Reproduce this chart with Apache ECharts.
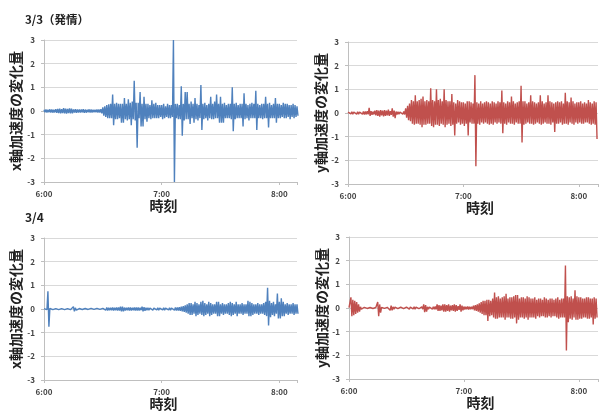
<!DOCTYPE html>
<html>
<head>
<meta charset="utf-8">
<script src="https://cdn.jsdelivr.net/npm/echarts@6/dist/echarts.min.js"></script>
<style>
html,body{margin:0;padding:0;background:#fff;}
#chart{width:601px;height:412px;}
</style>
</head>
<body>
<div id="chart"></div>
<script>
// Each minute from 6:00: highest reading (hi) and lowest reading (lo) in that minute
const sampleStepMinutes = 1;
const timeLabels = ['6:00', '7:00', '8:00'];
const panelTitles = ['3/3（発情）', '3/4'];
const yNames = ['x軸加速度の変化量', 'y軸加速度の変化量'];
const xName = '時刻';

// 3/3 x-axis acceleration change
const mar3XHi = [
 0.05,0.06,0.05,0.07,0.06,0.05,0.08,0.09,0.1,0.08,
 0.12,0.1,0.09,0.11,0.1,0.07,0.08,0.07,0.06,0.07,
 0.08,0.06,0.05,0.07,0.06,0.05,0.05,0.06,0.06,0.08,
 0.15,0.2,0.25,0.28,0.3,0.7,0.3,0.35,0.3,0.3,
 0.3,0.55,0.3,0.5,0.35,0.4,1.28,0.35,0.35,0.8,
 0.3,0.6,0.3,0.3,0.25,0.45,0.3,0.35,0.25,0.25,
 0.25,0.3,0.2,0.3,0.25,0.25,3,0.3,0.3,0.25,
 1.05,0.3,0.8,0.8,0.3,0.4,0.3,0.55,0.3,0.25,
 1.1,0.3,0.35,0.25,0.3,0.6,0.3,0.4,0.7,0.3,
 0.6,0.3,0.35,0.25,0.3,0.3,1.0,0.3,0.35,0.25,
 0.3,0.3,0.75,0.3,0.25,0.3,0.35,0.3,0.85,0.3,
 0.25,0.3,0.3,0.6,0.3,0.35,0.25,0.3,0.55,0.3,
 0.3,0.25,0.35,0.3,0.3,0.25,0.25,0.3,0.25,0.2
];
const mar3XLo = [
 -0.05,-0.06,-0.05,-0.06,-0.07,-0.06,-0.08,-0.09,-0.1,-0.09,
 -0.1,-0.11,-0.09,-0.1,-0.1,-0.07,-0.08,-0.07,-0.06,-0.06,
 -0.08,-0.07,-0.05,-0.06,-0.06,-0.05,-0.05,-0.06,-0.07,-0.1,
 -0.2,-0.25,-0.3,-0.3,-0.3,-0.6,-0.35,-0.35,-0.3,-0.5,
 -0.5,-0.35,-0.4,-0.35,-0.6,-0.35,-0.4,-1.55,-0.3,-0.65,
 -0.65,-0.35,-0.45,-0.3,-0.35,-0.3,-0.3,-0.3,-0.3,-0.25,
 -0.35,-0.3,-0.25,-0.3,-0.3,-0.25,-3,-0.3,-0.35,-0.35,
 -1.05,-0.4,-0.35,-0.35,-0.55,-0.3,-0.5,-0.35,-0.4,-0.3,
 -0.8,-0.35,-0.3,-0.4,-0.3,-0.35,-0.35,-0.3,-0.3,-0.5,
 -0.5,-0.5,-0.3,-0.3,-0.3,-0.35,-0.85,-0.35,-0.3,-0.3,
 -0.3,-0.65,-0.35,-0.3,-0.4,-0.3,-0.3,-0.3,-0.8,-0.3,
 -0.3,-0.35,-0.3,-0.3,-0.7,-0.3,-0.3,-0.3,-0.5,-0.3,
 -0.3,-0.25,-0.3,-0.3,-0.25,-0.35,-0.25,-0.3,-0.25,-0.2
];
// 3/3 y-axis acceleration change
const mar3YHi = [
 0.04,0.04,0.05,0.04,0.05,0.05,0.04,0.05,0.06,0.06,
 0.08,0.22,0.08,0.06,0.1,0.12,0.1,0.12,0.1,0.12,
 0.1,0.14,0.08,0.2,0.1,0.06,0.05,0.04,0.05,0.06,
 0.2,0.3,0.4,0.55,0.5,0.75,0.5,0.55,0.6,0.7,
 0.5,0.55,0.5,1.05,0.55,0.5,1.0,0.55,0.6,0.5,
 1.0,0.55,0.5,0.5,0.8,0.45,0.4,0.55,0.5,0.45,
 0.45,0.4,0.5,0.5,0.45,0.4,1.6,0.45,0.4,0.5,
 0.4,0.45,0.5,0.45,0.4,0.5,0.45,0.4,0.5,0.45,
 0.95,0.45,0.4,0.5,0.45,0.7,0.5,0.4,0.45,0.5,
 1.15,0.5,0.5,0.4,0.45,0.75,0.5,0.45,0.4,0.45,
 0.75,0.5,0.4,0.45,0.75,0.5,0.45,0.4,0.45,0.5,
 0.45,0.5,0.4,0.85,0.5,0.45,0.65,0.5,0.4,0.45,
 0.45,0.5,0.4,0.45,0.4,0.55,0.45,0.4,0.5,0.45
];
const mar3YLo = [
 -0.04,-0.04,-0.05,-0.04,-0.05,-0.05,-0.04,-0.05,-0.06,-0.06,
 -0.06,-0.12,-0.08,-0.06,-0.1,-0.12,-0.15,-0.1,-0.14,-0.12,
 -0.1,-0.12,-0.08,-0.15,-0.22,-0.06,-0.05,-0.04,-0.05,-0.06,
 -0.2,-0.3,-0.35,-0.45,-0.5,-0.45,-0.45,-0.5,-0.6,-0.5,
 -0.5,-0.45,-0.45,-0.55,-0.6,-0.5,-0.5,-0.55,-0.45,-0.5,
 -0.6,-0.5,-0.45,-0.55,-0.5,-0.95,-0.45,-0.4,-0.5,-0.45,
 -0.55,-0.45,-0.95,-0.4,-0.45,-0.45,-2.25,-0.45,-0.5,-0.4,
 -0.45,-0.4,-0.45,-0.5,-0.45,-0.5,-0.4,-0.45,-0.4,-0.45,
 -0.85,-0.45,-0.5,-0.4,-0.45,-0.45,-0.5,-0.4,-0.45,-0.45,
 -1.25,-0.5,-0.45,-0.4,-0.45,-0.45,-0.5,-0.45,-0.4,-0.45,
 -0.5,-0.45,-0.4,-0.45,-0.45,-0.5,-0.4,-0.8,-0.45,-0.45,
 -0.4,-0.5,-0.45,-0.45,-0.5,-0.4,-0.45,-0.5,-0.4,-0.45,
 -0.4,-0.45,-0.45,-0.4,-0.4,-0.45,-0.5,-0.45,-0.5,-1.1
];
// 3/4 x-axis acceleration change
const mar4XHi = [
 0.02,0.03,0.75,0.03,0.03,0.02,0.02,0.03,0.02,0.02,
 0.03,0.02,0.02,0.03,0.02,0.1,0.05,0.03,0.02,0.02,
 0.02,0.02,0.02,0.02,0.03,0.02,0.02,0.03,0.02,0.02,
 0.03,0.05,0.06,0.05,0.05,0.06,0.05,0.06,0.07,0.1,
 0.1,0.06,0.05,0.06,0.06,0.05,0.06,0.07,0.06,0.05,
 0.1,0.08,0.05,0.05,0.04,0.05,0.04,0.04,0.05,0.04,
 0.04,0.05,0.04,0.04,0.05,0.04,0.05,0.06,0.07,0.08,
 0.1,0.12,0.15,0.2,0.25,0.25,0.2,0.3,0.25,0.2,
 0.3,0.35,0.25,0.2,0.3,0.25,0.2,0.2,0.3,0.3,
 0.2,0.25,0.2,0.2,0.25,0.3,0.25,0.2,0.3,0.2,
 0.2,0.25,0.2,0.2,0.35,0.3,0.25,0.2,0.2,0.25,
 0.2,0.2,0.25,0.3,0.9,0.35,0.25,0.3,0.2,0.65,
 0.3,0.45,0.3,0.2,0.25,0.2,0.2,0.25,0.2,0.2
];
const mar4XLo = [
 -0.02,-0.03,-0.75,-0.03,-0.03,-0.02,-0.02,-0.03,-0.02,-0.02,
 -0.03,-0.02,-0.02,-0.03,-0.02,-0.1,-0.05,-0.03,-0.02,-0.02,
 -0.02,-0.02,-0.02,-0.02,-0.03,-0.02,-0.02,-0.03,-0.02,-0.02,
 -0.03,-0.05,-0.06,-0.05,-0.05,-0.06,-0.05,-0.06,-0.07,-0.1,
 -0.1,-0.06,-0.05,-0.06,-0.06,-0.05,-0.06,-0.07,-0.06,-0.05,
 -0.1,-0.08,-0.05,-0.05,-0.04,-0.05,-0.04,-0.04,-0.05,-0.04,
 -0.04,-0.05,-0.04,-0.04,-0.05,-0.04,-0.05,-0.06,-0.07,-0.08,
 -0.1,-0.12,-0.15,-0.2,-0.25,-0.25,-0.2,-0.3,-0.25,-0.2,
 -0.25,-0.3,-0.25,-0.2,-0.3,-0.25,-0.2,-0.2,-0.3,-0.3,
 -0.2,-0.25,-0.2,-0.2,-0.25,-0.3,-0.25,-0.2,-0.3,-0.2,
 -0.2,-0.25,-0.2,-0.2,-0.3,-0.3,-0.25,-0.2,-0.2,-0.25,
 -0.2,-0.2,-0.25,-0.3,-0.7,-0.35,-0.25,-0.3,-0.2,-0.4,
 -0.4,-0.3,-0.3,-0.2,-0.25,-0.2,-0.2,-0.25,-0.2,-0.2
];
// 3/4 y-axis acceleration change
const mar4YHi = [
 0.02,0.45,0.35,0.3,0.25,0.15,0.05,0.03,0.03,0.02,
 0.03,0.02,0.02,0.03,0.02,0.25,0.15,0.03,0.02,0.02,
 0.03,0.1,0.1,0.05,0.04,0.03,0.03,0.04,0.03,0.03,
 0.04,0.05,0.04,0.04,0.05,0.04,0.03,0.04,0.05,0.15,
 0.12,0.05,0.04,0.05,0.05,0.06,0.15,0.12,0.1,0.15,
 0.15,0.12,0.15,0.1,0.12,0.15,0.12,0.08,0.15,0.1,
 0.06,0.05,0.06,0.05,0.05,0.1,0.12,0.15,0.2,0.25,
 0.3,0.3,0.35,0.35,0.3,0.4,0.65,0.45,0.5,0.4,
 0.45,0.5,0.6,0.4,0.45,0.45,0.5,0.55,0.55,0.4,
 0.45,0.45,0.4,0.5,0.45,0.4,0.4,0.45,0.35,0.4,
 0.4,0.35,0.45,0.4,0.35,0.4,0.4,0.35,0.4,0.45,
 0.35,0.4,0.4,1.8,0.5,0.45,0.5,0.4,0.75,0.5,
 0.45,0.45,0.4,0.4,0.45,0.45,0.4,0.4,0.45,0.4
];
const mar4YLo = [
 -0.02,-0.35,-0.3,-0.25,-0.2,-0.15,-0.05,-0.03,-0.03,-0.02,
 -0.03,-0.02,-0.02,-0.03,-0.02,-0.35,-0.2,-0.03,-0.02,-0.02,
 -0.03,-0.1,-0.1,-0.05,-0.04,-0.03,-0.03,-0.04,-0.03,-0.03,
 -0.04,-0.05,-0.04,-0.04,-0.05,-0.04,-0.03,-0.04,-0.05,-0.18,
 -0.15,-0.05,-0.04,-0.05,-0.05,-0.06,-0.12,-0.12,-0.1,-0.15,
 -0.15,-0.12,-0.15,-0.1,-0.12,-0.15,-0.12,-0.08,-0.15,-0.1,
 -0.06,-0.05,-0.06,-0.05,-0.05,-0.1,-0.12,-0.15,-0.2,-0.25,
 -0.3,-0.3,-0.55,-0.35,-0.3,-0.4,-0.45,-0.45,-0.4,-0.4,
 -0.4,-0.5,-0.4,-0.4,-0.45,-0.45,-0.4,-0.65,-0.5,-0.4,
 -0.4,-0.45,-0.4,-0.5,-0.4,-0.4,-0.4,-0.45,-0.35,-0.4,
 -0.35,-0.35,-0.4,-0.4,-0.35,-0.4,-0.35,-0.35,-0.4,-0.45,
 -0.4,-0.4,-0.4,-1.8,-0.6,-0.45,-0.5,-0.4,-0.5,-0.5,
 -0.45,-0.45,-0.4,-0.4,-0.45,-0.45,-0.4,-0.7,-0.45,-0.4
];

const BLUE = '#4F81BD';
const RED = '#C0504D';
const FONT = '"Noto Sans CJK JP", "Liberation Sans", sans-serif';

// each minute's high reading, then its low reading half a minute later
const toTrace = (hi, lo) => {
  const out = [];
  hi.forEach((h, i) => {
    const t = i * sampleStepMinutes;
    out.push([t, h]);
    out.push([t + sampleStepMinutes / 2, lo[i]]);
  });
  return out;
};

const grids = [
  {left: 44, top: 40, width: 253, height: 142},
  {left: 348, top: 42, width: 253, height: 142},
  {left: 44, top: 238, width: 253, height: 142},
  {left: 349, top: 237, width: 252, height: 142}
];
const xMax = [129, 130, 129, 130];
const xNamePad = [[0, 14, 0, 0], [0, 0, 0, 14], [0, 14, 0, 0], [0, 0, 0, 14]];
const xNameGap = [15, 16, 15, 17];
const yNameGap = [21, 16, 21, 16];

const xAxes = grids.map((g, k) => ({
  type: 'value', gridIndex: k, min: 0, max: xMax[k], interval: 60,
  name: xName, nameLocation: 'middle', nameGap: xNameGap[k],
  nameTextStyle: {fontFamily: FONT, fontSize: 14, fontWeight: 'bold', color: '#222', padding: xNamePad[k]},
  axisLine: {show: true, onZero: false, lineStyle: {color: '#bfbfbf', width: 1}},
  axisTick: {show: true, length: 3, lineStyle: {color: '#bfbfbf'}},
  splitLine: {show: false},
  axisLabel: {
    margin: 8, fontFamily: FONT, fontSize: 8, fontWeight: 'bold', color: '#444',
    formatter: v => (v % 60 === 0 ? (timeLabels[v / 60] || '') : '')
  }
}));

const yAxes = grids.map((g, k) => ({
  type: 'value', gridIndex: k, min: -3, max: 3, interval: 1,
  name: yNames[k % 2], nameLocation: 'middle', nameRotate: 90, nameGap: yNameGap[k],
  nameTextStyle: {fontFamily: FONT, fontSize: 14, fontWeight: 'bold', color: '#222'},
  axisLine: {show: true, lineStyle: {color: '#bfbfbf', width: 1}},
  axisTick: {show: true, length: 3, lineStyle: {color: '#bfbfbf'}},
  splitLine: {show: true, lineStyle: {color: '#d9d9d9', width: 1}},
  axisLabel: {margin: 9, fontFamily: FONT, fontSize: 8, fontWeight: 'bold', color: '#444'}
}));

const seriesData = [
  [mar3XHi, mar3XLo], [mar3YHi, mar3YLo],
  [mar4XHi, mar4XLo], [mar4YHi, mar4YLo]
];
const series = seriesData.map(([hi, lo], k) => ({
  type: 'line', xAxisIndex: k, yAxisIndex: k,
  data: toTrace(hi, lo), showSymbol: false, symbol: 'none',
  lineStyle: {color: k % 2 === 0 ? BLUE : RED, width: 1.4},
  itemStyle: {color: k % 2 === 0 ? BLUE : RED},
  animation: false, clip: true
}));

const chart = echarts.init(document.getElementById('chart'), null, {renderer: 'canvas'});
chart.setOption({
  backgroundColor: '#fff',
  animation: false,
  title: [
    {text: panelTitles[0], left: 25, top: 14, padding: 0,
     textStyle: {fontFamily: FONT, fontSize: 11.5, fontWeight: 'bold', color: '#222'}},
    {text: panelTitles[1], left: 25, top: 211, padding: 0,
     textStyle: {fontFamily: FONT, fontSize: 12, fontWeight: 'bold', color: '#222'}}
  ],
  grid: grids,
  xAxis: xAxes,
  yAxis: yAxes,
  series: series
});
</script>
</body>
</html>
